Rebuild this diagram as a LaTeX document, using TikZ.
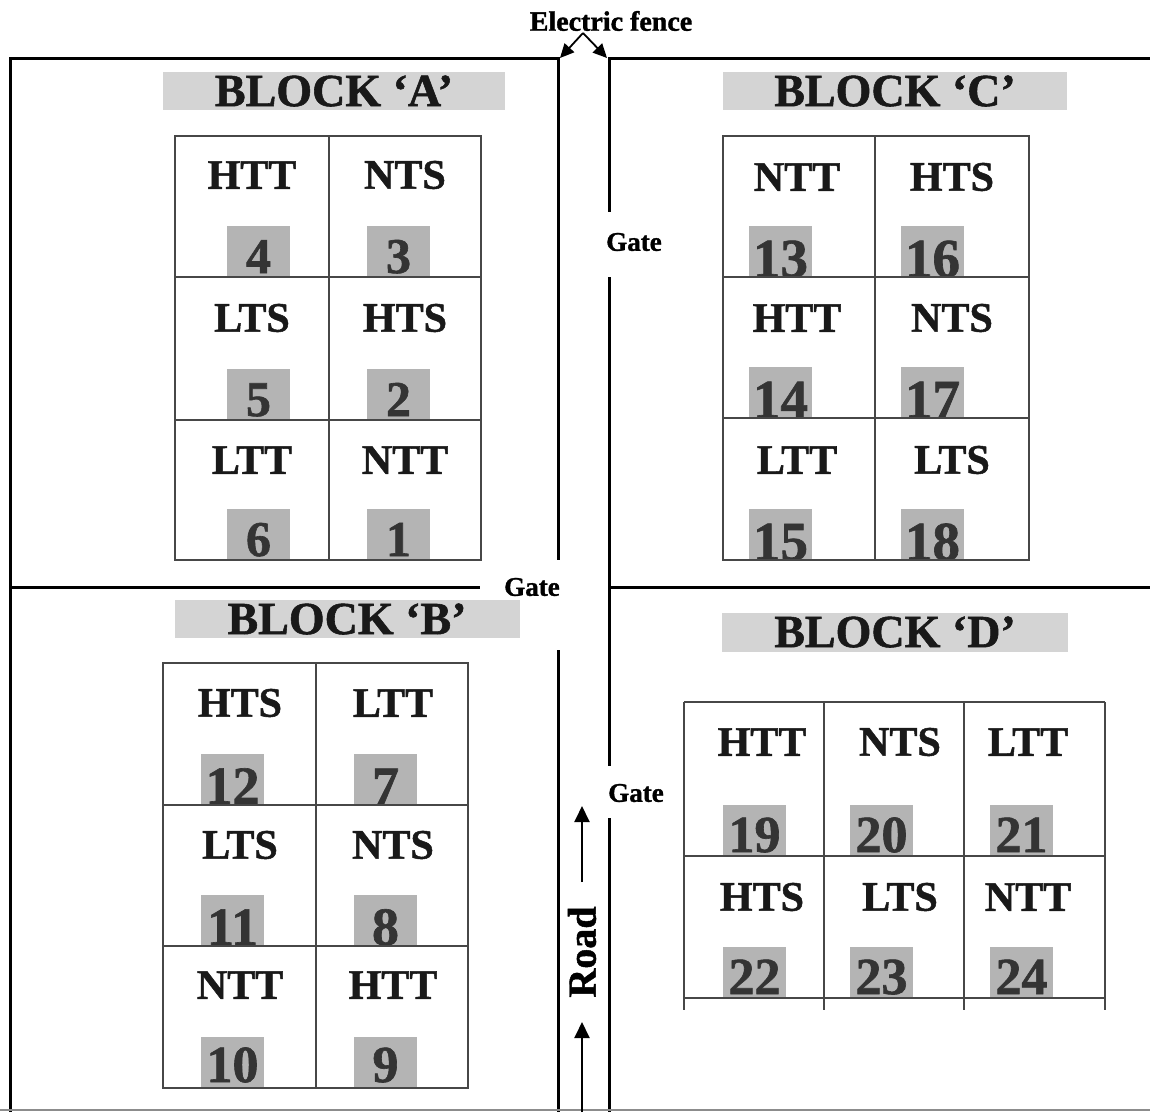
\documentclass[tikz,border=0pt]{standalone}
\usepackage{fontspec}
\setmainfont{Liberation Serif}[BoldFeatures={FakeBold=1.2}]
\usetikzlibrary{arrows.meta}
\definecolor{numfill}{HTML}{B4B4B4}
\definecolor{numtxt}{HTML}{343434}
\definecolor{titlefill}{HTML}{D4D4D4}
\definecolor{gridc}{HTML}{474747}
\newcommand{\numbox}[6]{%
  \begin{scope}
    \clip (#2,#3-51) rectangle (#2+63,#3);
    \fill[numfill] (#2,#3-51) rectangle (#2+63,#3);
    \node[numlab, font=\fontsize{#5}{#5}\selectfont\bfseries, anchor=base] (#1) at (#2+31.5,#3-#6) {#4};
  \end{scope}}
\begin{document}
\begin{tikzpicture}[x=1pt,y=-1pt,
  fence/.style={line width=3pt, draw=black, line join=miter},
  gridline/.style={line width=2pt, draw=gridc},
  lab/.style={font=\fontsize{42}{42}\selectfont\bfseries, text=black!90, inner sep=0pt},
  numlab/.style={text=numtxt, inner sep=0pt},
  titlebar/.style={fill=titlefill, inner sep=0pt, font=\fontsize{46}{46}\selectfont\bfseries, text=black!90},
  gatelab/.style={font=\fontsize{27}{27}\selectfont\bfseries, inner sep=0pt},
  arr/.style={line width=2pt, -{Triangle[length=16pt,width=15pt]}}]
\useasboundingbox (0,0) rectangle (1150,1112);

% ---------- fences ----------
\draw[fence] (10,1112) -- (10,58) -- (558,58) -- (558,560);
\draw[fence] (558,650) -- (558,1112);
\draw[fence] (10,587) -- (480,587);
\draw[fence] (1150,58) -- (609,58) -- (609,212);
\draw[fence] (609,277) -- (609,766);
\draw[fence] (609,818) -- (609,1112);
\draw[fence] (609,587) -- (1150,587);
\draw[line width=1.5pt, draw=black!45] (0,1110) -- (1150,1110);

% ---------- electric fence label ----------
\node[gatelab, font=\fontsize{28}{28}\selectfont\bfseries] (ef) at (611,21) {Electric fence};
\coordinate (efapex) at (583,33);
\coordinate (efL) at (560,58);
\coordinate (efR) at (607,58);
\draw[line width=1.8pt, -{Triangle[length=14pt,width=13pt]}] (efapex) -- (efL);
\draw[line width=1.8pt, -{Triangle[length=14pt,width=13pt]}] (efapex) -- (efR);

% ---------- gates ----------
\node[gatelab] (gate1) at (634,242) {Gate};
\node[gatelab] (gate2) at (532,587) {Gate};
\node[gatelab] (gate3) at (636,793) {Gate};

% ---------- road ----------
\node[font=\fontsize{40}{40}\selectfont\bfseries, inner sep=0pt, rotate=90] (road) at (582,952) {Road};
\coordinate (r1t) at (582,882); \coordinate (r1h) at (582,806);
\coordinate (r2t) at (582,1112); \coordinate (r2h) at (582,1022);
\draw[arr] (r1t) -- (r1h);
\draw[arr] (r2t) -- (r2h);

% ---------- titles ----------
\node[titlebar, minimum width=342pt, minimum height=38pt] (tA) at (334,91) {BLOCK ‘A’};
\node[titlebar, minimum width=344pt, minimum height=38pt] (tC) at (895,91) {BLOCK ‘C’};
\node[titlebar, minimum width=345pt, minimum height=38pt] (tB) at (347,619) {BLOCK ‘B’};
\node[titlebar, minimum width=346pt, minimum height=39pt] (tD) at (895,632) {BLOCK ‘D’};

% ---------- number boxes ----------
% Block A
\numbox{nA4}{227}{277}{4}{50}{4}
\numbox{nA3}{367}{277}{3}{50}{4}
\numbox{nA5}{227}{420}{5}{50}{4}
\numbox{nA2}{367}{420}{2}{50}{4}
\numbox{nA6}{227}{560}{6}{50}{4}
\numbox{nA1}{367}{560}{1}{50}{4}
% Block C
\numbox{nC13}{749}{277}{13}{55}{0}
\numbox{nC16}{901}{277}{16}{55}{0}
\numbox{nC14}{749}{418}{14}{55}{0}
\numbox{nC17}{901}{418}{17}{55}{0}
\numbox{nC15}{749}{560}{15}{55}{0}
\numbox{nC18}{901}{560}{18}{55}{0}
% Block B
\numbox{nB12}{201}{805}{12}{54}{1}
\numbox{nB7}{354}{805}{7}{54}{1}
\numbox{nB11}{201}{946}{11}{54}{1}
\numbox{nB8}{354}{946}{8}{54}{1}
\numbox{nB10}{201}{1088}{10}{52}{6}
\numbox{nB9}{354}{1088}{9}{52}{6}
% Block D
\numbox{nD19}{723}{856}{19}{52}{4}
\numbox{nD20}{850}{856}{20}{52}{4}
\numbox{nD21}{990}{856}{21}{52}{4}
\numbox{nD22}{723}{998}{22}{52}{4}
\numbox{nD23}{850}{998}{23}{52}{4}
\numbox{nD24}{990}{998}{24}{52}{4}

% ---------- grids ----------
% Block A
\draw[gridline] (175,136) rectangle (481,560);
\draw[gridline] (329,136) -- (329,560);
\draw[gridline] (175,277) -- (481,277);
\draw[gridline] (175,420) -- (481,420);
% Block C
\draw[gridline] (723,136) rectangle (1029,560);
\draw[gridline] (875,136) -- (875,560);
\draw[gridline] (723,277) -- (1029,277);
\draw[gridline] (723,418) -- (1029,418);
% Block B
\draw[gridline] (163,663) rectangle (468,1088);
\draw[gridline] (316,663) -- (316,1088);
\draw[gridline] (163,805) -- (468,805);
\draw[gridline] (163,946) -- (468,946);
% Block D
\draw[gridline] (684,702) -- (1105,702);
\draw[gridline] (684,856) -- (1105,856);
\draw[gridline] (684,998) -- (1105,998);
\foreach \xx in {684,824,964,1105} \draw[gridline] (\xx,702) -- (\xx,1010);

% ---------- cell labels ----------
% Block A
\node[lab] (A1) at (252,175) {HTT};
\node[lab] (A2) at (405,175) {NTS};
\node[lab] (A3) at (252,318) {LTS};
\node[lab] (A4) at (405,318) {HTS};
\node[lab] (A5) at (252,460) {LTT};
\node[lab] (A6) at (405,460) {NTT};
% Block C
\node[lab] (C1) at (797,177) {NTT};
\node[lab] (C2) at (952,177) {HTS};
\node[lab] (C3) at (797,318) {HTT};
\node[lab] (C4) at (952,318) {NTS};
\node[lab] (C5) at (797,460) {LTT};
\node[lab] (C6) at (952,460) {LTS};
% Block B
\node[lab] (B1) at (240,703) {HTS};
\node[lab] (B2) at (393,703) {LTT};
\node[lab] (B3) at (240,845) {LTS};
\node[lab] (B4) at (393,845) {NTS};
\node[lab] (B5) at (240,985) {NTT};
\node[lab] (B6) at (393,985) {HTT};
% Block D
\node[lab] (D1) at (762,742) {HTT};
\node[lab] (D2) at (900,742) {NTS};
\node[lab] (D3) at (1028,742) {LTT};
\node[lab] (D4) at (762,897) {HTS};
\node[lab] (D5) at (900,897) {LTS};
\node[lab] (D6) at (1028,897) {NTT};
\end{tikzpicture}
\end{document}
